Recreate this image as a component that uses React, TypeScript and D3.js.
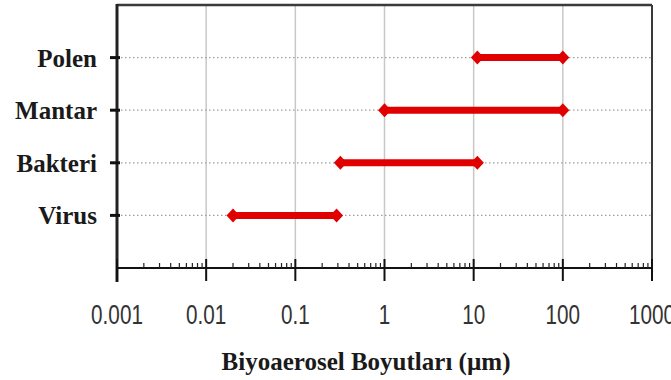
import React from "react";
import * as d3 from "d3";

const categories = ["Polen", "Mantar", "Bakteri", "Virus"];
const minSize = [11, 1, 0.32, 0.02];
const maxSize = [100, 100, 11, 0.29];
const tickValues = [0.001, 0.01, 0.1, 1, 10, 100, 1000];
const tickLabels = ["0.001", "0.01", "0.1", "1", "10", "100", "1000"];

const W = 671;
const H = 380;
const left = 117;
const right = 652;
const top = 5;
const bottom = 268;

export default function App() {
  const x = d3.scaleLog().domain([0.001, 1000]).range([left, right]);
  const y = d3.scalePoint<string>().domain(categories).range([top, bottom]).padding(1);

  const minorTicks: number[] = [];
  for (let e = -3; e < 3; e++) {
    for (let m = 2; m <= 9; m++) minorTicks.push(m * Math.pow(10, e));
  }

  const red = "#e00000";
  const diamond = (cx: number, cy: number) =>
    `M${cx - 6.5},${cy} L${cx},${cy - 7} L${cx + 6.5},${cy} L${cx},${cy + 7} Z`;

  return (
    <svg width={W} height={H} style={{ position: "absolute", left: 0, top: 0, background: "#fff" }}>
      {/* vertical grid */}
      {tickValues.slice(1, -1).map((t) => (
        <line key={t} x1={x(t)} x2={x(t)} y1={top} y2={bottom} stroke="#c8c8c8" strokeWidth={1.5} />
      ))}
      {/* horizontal dotted lines */}
      {categories.map((c) => (
        <line key={c} x1={left} x2={right} y1={y(c)} y2={y(c)} stroke="#a0a0a0" strokeWidth={1.3} strokeDasharray="1.5,2.5" />
      ))}
      {/* frame */}
      <line x1={left} x2={right} y1={top} y2={top} stroke="#3a3a3a" strokeWidth={2.5} />
      <line x1={right} x2={right} y1={top} y2={bottom} stroke="#3a3a3a" strokeWidth={2} />
      <line x1={left} x2={left} y1={top - 1} y2={bottom + 14} stroke="#222" strokeWidth={3} />
      <line x1={left} x2={right} y1={bottom} y2={bottom} stroke="#111" strokeWidth={2} />
      {/* category ticks */}
      {categories.map((c) => (
        <line key={c} x1={left - 7} x2={left + 3} y1={y(c)} y2={y(c)} stroke="#111" strokeWidth={3} />
      ))}
      {/* x ticks */}
      {tickValues.map((t) => (
        <line key={t} x1={x(t)} x2={x(t)} y1={bottom - 9} y2={bottom + 13} stroke="#111" strokeWidth={2} />
      ))}
      {minorTicks.map((t) => (
        <line key={t} x1={x(t)} x2={x(t)} y1={bottom - 5} y2={bottom} stroke="#222" strokeWidth={1.2} />
      ))}
      {/* tick labels */}
      {tickValues.map((t, i) => (
        <text
          key={t}
          transform={`translate(${x(t)},324) scale(0.74,1)`}
          textAnchor="middle"
          fontFamily="Liberation Sans, Arial, sans-serif"
          fontSize={28}
          fill="#333"
        >
          {tickLabels[i]}
        </text>
      ))}
      {/* category labels */}
      {categories.map((c) => (
        <text key={c} x={97} y={y(c)! + 9} textAnchor="end" fontFamily="Liberation Serif, Times New Roman, serif" fontWeight="bold" fontSize={25} fill="#1a1a1a">
          {c}
        </text>
      ))}
      {/* ranges */}
      {categories.map((c, i) => {
        const cy = y(c)!;
        const x0 = x(minSize[i]);
        const x1 = x(maxSize[i]);
        return (
          <g key={c}>
            <line x1={x0} x2={x1} y1={cy} y2={cy} stroke={red} strokeWidth={7} />
            <path d={diamond(x0, cy)} fill={red} />
            <path d={diamond(x1, cy)} fill={red} />
          </g>
        );
      })}
      {/* axis title */}
      <text x={366} y={370} textAnchor="middle" fontFamily="Liberation Serif, Times New Roman, serif" fontWeight="bold" fontSize={25} fill="#1a1a1a">
        Biyoaerosel Boyutları (µm)
      </text>
    </svg>
  );
}
